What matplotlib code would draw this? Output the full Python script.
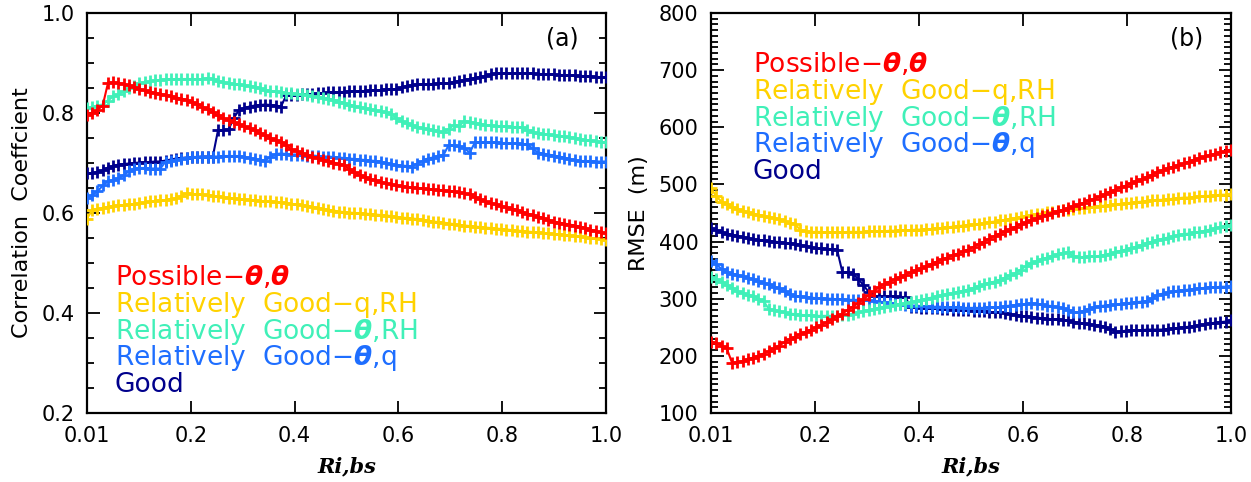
import numpy as np
import matplotlib
matplotlib.use("Agg")
import matplotlib.pyplot as plt
from matplotlib.ticker import MultipleLocator

# ---------------- data ----------------
# Ri,bs thresholds (axis shows 0.01 ... 1.0, 100 steps)
ri_bs = [round(0.01 * k, 2) for k in range(1, 101)]
xtick_vals = [0.01, 0.2, 0.4, 0.6, 0.8, 1.0]
xtick_labels = ["0.01", "0.2", "0.4", "0.6", "0.8", "1.0"]

series_names = ["Possible", "RG_q_RH", "RG_th_RH", "RG_th_q", "Good"]

# Panel (a): correlation coefficient
cc_possible = [0.796, 0.800, 0.806, 0.815, 0.860, 0.861, 0.860, 0.858, 0.855, 0.851,
               0.848, 0.845, 0.842, 0.840, 0.838, 0.836, 0.834, 0.831, 0.829, 0.826,
               0.822, 0.818, 0.813, 0.807, 0.801, 0.795, 0.789, 0.785, 0.781, 0.777,
               0.773, 0.769, 0.765, 0.760, 0.755, 0.750, 0.746, 0.742, 0.735, 0.727,
               0.723, 0.720, 0.716, 0.713, 0.710, 0.707, 0.704, 0.701, 0.698, 0.696,
               0.688, 0.681, 0.676, 0.672, 0.668, 0.665, 0.662, 0.659, 0.657, 0.655,
               0.654, 0.652, 0.651, 0.650, 0.649, 0.648, 0.647, 0.646, 0.645, 0.644,
               0.643, 0.641, 0.639, 0.637, 0.632, 0.627, 0.623, 0.620, 0.617, 0.614,
               0.611, 0.609, 0.606, 0.602, 0.599, 0.596, 0.593, 0.590, 0.586, 0.583,
               0.581, 0.579, 0.577, 0.575, 0.573, 0.570, 0.567, 0.564, 0.561, 0.559]
cc_rg_q_rh = [0.589, 0.606, 0.608, 0.610, 0.612, 0.614, 0.615, 0.616, 0.617, 0.618,
              0.619, 0.621, 0.623, 0.624, 0.625, 0.626, 0.628, 0.629, 0.634, 0.639,
              0.638, 0.637, 0.637, 0.636, 0.634, 0.633, 0.631, 0.630, 0.629, 0.628,
              0.627, 0.626, 0.625, 0.624, 0.623, 0.623, 0.622, 0.621, 0.620, 0.618,
              0.617, 0.616, 0.614, 0.612, 0.610, 0.608, 0.606, 0.605, 0.603, 0.602,
              0.601, 0.600, 0.600, 0.599, 0.598, 0.597, 0.596, 0.595, 0.594, 0.592,
              0.591, 0.590, 0.589, 0.588, 0.586, 0.585, 0.583, 0.582, 0.581, 0.579,
              0.578, 0.576, 0.575, 0.574, 0.573, 0.572, 0.571, 0.570, 0.569, 0.568,
              0.567, 0.566, 0.565, 0.564, 0.563, 0.562, 0.561, 0.560, 0.559, 0.558,
              0.557, 0.556, 0.555, 0.554, 0.553, 0.551, 0.550, 0.549, 0.548, 0.546]
cc_rg_th_rh = [0.809, 0.812, 0.815, 0.817, 0.825, 0.833, 0.838, 0.843, 0.849, 0.854,
               0.859, 0.861, 0.863, 0.865, 0.866, 0.867, 0.867, 0.868, 0.868, 0.868,
               0.868, 0.867, 0.867, 0.870, 0.867, 0.864, 0.861, 0.859, 0.858, 0.857,
               0.855, 0.854, 0.852, 0.849, 0.846, 0.844, 0.843, 0.842, 0.840, 0.839,
               0.838, 0.837, 0.835, 0.834, 0.832, 0.830, 0.829, 0.826, 0.823, 0.820,
               0.817, 0.814, 0.811, 0.809, 0.807, 0.805, 0.803, 0.801, 0.798, 0.790,
               0.783, 0.779, 0.775, 0.772, 0.769, 0.767, 0.765, 0.763, 0.761, 0.768,
               0.776, 0.774, 0.784, 0.782, 0.780, 0.778, 0.776, 0.775, 0.774, 0.774,
               0.773, 0.772, 0.772, 0.771, 0.766, 0.762, 0.759, 0.758, 0.757, 0.755,
               0.754, 0.753, 0.751, 0.750, 0.748, 0.746, 0.745, 0.744, 0.742, 0.741]
cc_rg_th_q = [0.629, 0.636, 0.643, 0.655, 0.663, 0.666, 0.669, 0.676, 0.683, 0.689,
              0.690, 0.690, 0.689, 0.689, 0.689, 0.703, 0.705, 0.707, 0.709, 0.711,
              0.712, 0.712, 0.713, 0.713, 0.713, 0.713, 0.714, 0.714, 0.714, 0.714,
              0.712, 0.710, 0.708, 0.706, 0.705, 0.712, 0.718, 0.719, 0.718, 0.717,
              0.717, 0.716, 0.715, 0.715, 0.714, 0.713, 0.713, 0.712, 0.711, 0.710,
              0.709, 0.708, 0.707, 0.706, 0.705, 0.704, 0.703, 0.700, 0.698, 0.696,
              0.695, 0.694, 0.693, 0.699, 0.704, 0.709, 0.711, 0.714, 0.716, 0.736,
              0.735, 0.734, 0.729, 0.721, 0.741, 0.741, 0.741, 0.741, 0.741, 0.740,
              0.740, 0.739, 0.739, 0.738, 0.737, 0.729, 0.721, 0.719, 0.717, 0.715,
              0.713, 0.711, 0.708, 0.706, 0.704, 0.704, 0.704, 0.703, 0.703, 0.703]
cc_good = [0.679, 0.680, 0.682, 0.685, 0.691, 0.694, 0.697, 0.698, 0.699, 0.700,
           0.701, 0.702, 0.702, 0.703, 0.703, 0.705, 0.707, 0.709, 0.710, 0.711,
           0.712, 0.712, 0.713, 0.713, 0.713, 0.766, 0.766, 0.767, 0.790, 0.806,
           0.810, 0.813, 0.815, 0.816, 0.817, 0.816, 0.815, 0.813, 0.835, 0.836,
           0.836, 0.837, 0.838, 0.838, 0.839, 0.840, 0.841, 0.841, 0.842, 0.842,
           0.843, 0.843, 0.844, 0.844, 0.845, 0.845, 0.846, 0.847, 0.847, 0.848,
           0.851, 0.854, 0.856, 0.857, 0.857, 0.858, 0.858, 0.859, 0.859, 0.860,
           0.862, 0.864, 0.866, 0.868, 0.870, 0.872, 0.874, 0.877, 0.879, 0.879,
           0.879, 0.879, 0.879, 0.879, 0.879, 0.879, 0.878, 0.878, 0.877, 0.877,
           0.876, 0.876, 0.875, 0.875, 0.874, 0.874, 0.873, 0.872, 0.872, 0.871]

# Panel (b): RMSE (m)
rmse_possible = [225, 222, 218, 213, 188, 189, 191, 194, 197, 200,
                 204, 208, 213, 218, 224, 229, 233, 238, 242, 246,
                 250, 254, 259, 264, 269, 274, 280, 286, 292, 299,
                 306, 313, 320, 326, 330, 334, 338, 342, 346, 350,
                 353, 357, 361, 365, 369, 372, 376, 379, 383, 386,
                 391, 396, 400, 405, 410, 414, 418, 422, 426, 430,
                 434, 438, 441, 444, 447, 450, 453, 455, 459, 462,
                 465, 468, 472, 475, 479, 483, 487, 491, 495, 498,
                 502, 506, 509, 513, 517, 521, 525, 528, 531, 534,
                 537, 540, 543, 546, 549, 551, 554, 556, 558, 561]
rmse_rg_q_rh = [494, 479, 470, 465, 460, 457, 454, 451, 449, 447,
                445, 443, 441, 439, 436, 433, 431, 420, 418, 417,
                417, 417, 416, 416, 416, 416, 417, 417, 417, 417,
                418, 418, 418, 418, 419, 419, 420, 420, 420, 421,
                421, 422, 422, 423, 424, 425, 426, 427, 428, 429,
                430, 431, 432, 434, 435, 437, 438, 440, 441, 443,
                445, 446, 448, 449, 451, 452, 453, 455, 456, 457,
                458, 459, 460, 461, 462, 463, 464, 465, 466, 467,
                468, 469, 470, 471, 472, 473, 473, 474, 475, 476,
                477, 477, 478, 479, 480, 480, 481, 482, 482, 483]
rmse_rg_th_rh = [338, 334, 329, 324, 318, 313, 310, 307, 304, 300,
                 296, 282, 280, 278, 276, 274, 273, 272, 271, 271,
                 270, 270, 270, 270, 270, 271, 272, 274, 276, 278,
                 280, 282, 284, 286, 287, 289, 291, 292, 294, 296,
                 298, 300, 302, 304, 306, 308, 310, 312, 314, 316,
                 319, 322, 325, 328, 330, 333, 337, 341, 345, 351,
                 357, 362, 366, 369, 372, 375, 378, 380, 381, 374,
                 373, 373, 374, 374, 375, 377, 379, 381, 384, 386,
                 388, 391, 394, 397, 400, 403, 405, 407, 409, 411,
                 413, 414, 416, 417, 419, 421, 423, 425, 427, 429]
rmse_rg_th_q = [366, 360, 352, 347, 344, 342, 339, 336, 334, 331,
                328, 325, 321, 318, 313, 308, 305, 304, 303, 302,
                301, 301, 300, 300, 299, 299, 298, 298, 298, 297,
                297, 296, 295, 294, 293, 291, 290, 289, 288, 288,
                287, 287, 286, 286, 286, 285, 285, 285, 284, 284,
                284, 284, 284, 285, 285, 285, 287, 288, 289, 290,
                291, 292, 291, 290, 288, 287, 285, 283, 280, 277,
                276, 279, 282, 285, 287, 288, 289, 290, 291, 292,
                293, 294, 295, 296, 301, 306, 309, 311, 313, 314,
                315, 316, 317, 318, 319, 320, 320, 321, 321, 322]
rmse_good = [423, 420, 417, 414, 412, 410, 408, 406, 404, 403,
             402, 401, 400, 399, 398, 397, 396, 394, 392, 390,
             388, 388, 387, 387, 386, 347, 346, 343, 335, 324,
             312, 305, 304, 304, 304, 304, 303, 303, 285, 285,
             284, 284, 283, 283, 282, 282, 281, 281, 280, 280,
             279, 278, 278, 277, 276, 276, 275, 273, 272, 270,
             269, 268, 267, 266, 265, 264, 264, 263, 262, 260,
             258, 257, 255, 254, 253, 251, 247, 242, 243, 244,
             245, 245, 245, 246, 246, 246, 246, 247, 248, 249,
             250, 251, 252, 254, 255, 257, 258, 259, 260, 262]

legend_labels = [r"Possible$-\mathbfit{\theta}$,$\mathbfit{\theta}$",
                 r"Relatively  Good$-$q,RH",
                 r"Relatively  Good$-\mathbfit{\theta}$,RH",
                 r"Relatively  Good$-\mathbfit{\theta}$,q",
                 "Good"]
colors = ["#FF0000", "#FFD200", "#40F0B8", "#1E6EFF", "#00008C"]

# ---------------- plotting ----------------
plt.rcParams["font.family"] = ["DejaVu Sans"]
plt.rcParams["mathtext.fontset"] = "dejavusans"

fig = plt.figure(figsize=(12.51, 4.82), dpi=100)
W, H = 1251, 482
axA = fig.add_axes([87 / W, (482 - 413) / H, 519 / W, 400 / H])
axB = fig.add_axes([711 / W, (482 - 413) / H, 520 / W, 400 / H])

# positions on the (evenly spaced) axis: 0.01 sits at the left edge
def pos(v):
    return 0.0 if v <= 0.01 else v

x_pos = [k / 99.0 for k in range(len(ri_bs))]

def draw(ax, data_list):
    # draw order: Good, θ,q, θ,RH, q,RH, Possible (red on top)
    for idx in [4, 3, 2, 1, 0]:
        ax.plot(x_pos, data_list[idx], color=colors[idx], lw=1.5,
                marker="+", ms=8, mew=2.0, zorder=3 + (4 - idx))

draw(axA, [cc_possible, cc_rg_q_rh, cc_rg_th_rh, cc_rg_th_q, cc_good])
draw(axB, [rmse_possible, rmse_rg_q_rh, rmse_rg_th_rh, rmse_rg_th_q, rmse_good])

for ax in (axA, axB):
    ax.set_xlim(0, 1.0)
    ax.set_xticks([pos(v) for v in xtick_vals])
    ax.set_xticklabels(xtick_labels)
    ax.tick_params(axis="both", which="both", direction="in", top=True, right=True,
                   labelsize=15, width=1.3, pad=9)
    ax.tick_params(axis="x", which="major", length=9)
    ax.tick_params(axis="y", which="major", length=9)
    ax.tick_params(axis="y", which="minor", length=5)
    for sp in ax.spines.values():
        sp.set_linewidth(1.6)
    ax.set_xlabel("Ri,bs", fontsize=15, fontweight="bold", fontstyle="italic",
                  family="DejaVu Serif", labelpad=8)

axA.set_ylim(0.2, 1.0)
axA.set_yticks([0.2, 0.4, 0.6, 0.8, 1.0])
axA.set_yticklabels(["0.2", "0.4", "0.6", "0.8", "1.0"])
axA.yaxis.set_minor_locator(MultipleLocator(0.05))
axA.set_ylabel("Correlation  Coeffcient", fontsize=16, labelpad=7)

axB.set_ylim(100, 800)
axB.set_yticks(list(range(100, 801, 100)))
axB.yaxis.set_minor_locator(MultipleLocator(10))
axB.set_ylabel("RMSE  (m)", fontsize=16, labelpad=7)

axA.text(0.915, 0.935, "(a)", transform=axA.transAxes, fontsize=17,
         ha="center", va="center")
axB.text(0.915, 0.935, "(b)", transform=axB.transAxes, fontsize=17,
         ha="center", va="center")

# in-plot legends (coloured text lines)
def text_legend(ax, x0, y0, dy):
    for k, (lab, c) in enumerate(zip(legend_labels, colors)):
        ax.text(x0, y0 - k * dy, lab, color=c, fontsize=19, transform=ax.transAxes,
                ha="left", va="center")

text_legend(axA, (115 - 87) / 519, (413 - 278) / 400, 26.8 / 400)
text_legend(axB, (753 - 711) / 520, (413 - 65) / 400, 26.8 / 400)

fig.savefig("out.png", dpi=100)
